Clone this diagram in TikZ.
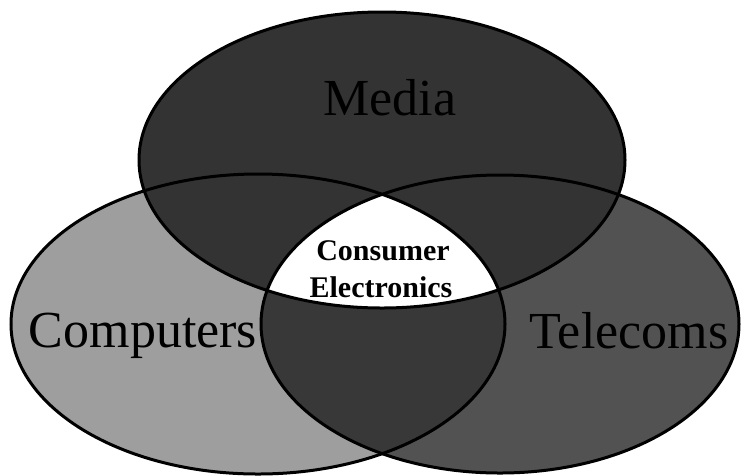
\documentclass[tikz,border=0pt]{standalone}
\usepackage{fontspec}
\setmainfont{Liberation Serif}
\begin{document}
\begin{tikzpicture}[x=1pt,y=-1pt,
  outline/.style={draw=black,line width=3pt},
  biglabel/.style={font=\fontsize{52}{52}\selectfont,text=black,anchor=base},
  celabel/.style={font=\bfseries\fontsize{30}{34}\selectfont,text=black,anchor=base}]
\useasboundingbox (0,0) rectangle (744,475);
\def\comp{(258,324) ellipse [x radius=247, y radius=150]}
\def\tele{(500,324) ellipse [x radius=239, y radius=149]}
\def\medi{(382,160) ellipse [x radius=243, y radius=148]}
% fills
\fill[black!38] \comp;
\fill[black!68] \tele;
\begin{scope}
  \clip \comp;
  \fill[black!78] \tele;
\end{scope}
\fill[black!80] \medi;
\begin{scope}
  \clip \comp;
  \clip \tele;
  \fill[white] \medi;
\end{scope}
% outlines
\draw[outline] \comp;
\draw[outline] \tele;
\draw[outline] \medi;
% labels
\node[biglabel] (media) at (390,115) {Media};
\node[biglabel] (computers) at (143,347) {Computers};
\node[biglabel] (telecoms) at (629,348) {Telecoms};
\node[celabel] (consumer) at (383,260) {Consumer};
\node[celabel] (electronics) at (381,297) {Electronics};
\end{tikzpicture}
\end{document}
